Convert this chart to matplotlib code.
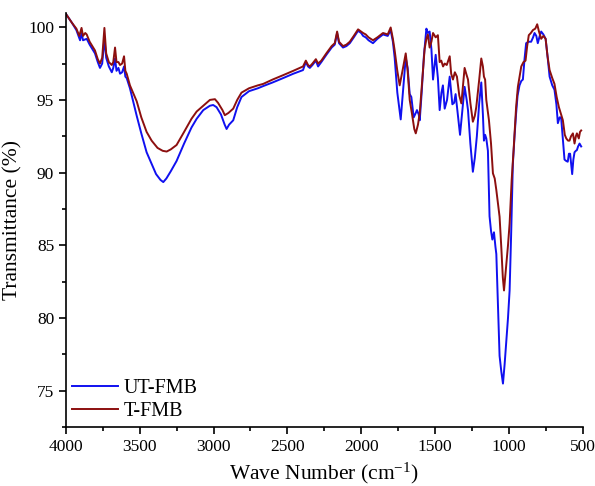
import matplotlib
matplotlib.use("Agg")
import matplotlib.pyplot as plt
from matplotlib.ticker import MultipleLocator

# UT-FMB spectrum (wave number, transmittance)
ut_wn = [4000, 3960, 3930, 3905, 3895, 3885, 3860, 3840, 3804, 3785, 3770, 3755, 3740, 3728,
         3710, 3690, 3680, 3668, 3658, 3645, 3634, 3620, 3607, 3598, 3589, 3567, 3521, 3490,
         3454, 3420, 3390, 3360, 3341, 3320, 3290, 3251, 3200, 3150, 3115, 3070, 3025, 3003,
         2980, 2950, 2925, 2912, 2895, 2867, 2840, 2811, 2760, 2700, 2664, 2600, 2529, 2460,
         2394, 2375, 2360, 2348, 2330, 2307, 2292, 2270, 2236, 2200, 2179, 2163, 2150, 2123,
         2100, 2077, 2050, 2021, 2000, 1987, 1969, 1950, 1920, 1890, 1852, 1820, 1800, 1785,
         1773, 1755, 1732, 1715, 1698, 1685, 1671, 1660, 1644, 1630, 1622, 1610, 1603, 1590,
         1575, 1558, 1548, 1536, 1524, 1513, 1495, 1480, 1468, 1456, 1446, 1434, 1418, 1400,
         1382, 1370, 1360, 1345, 1330, 1315, 1299, 1285, 1276, 1260, 1243, 1230, 1216, 1200,
         1186, 1175, 1168, 1160, 1152, 1141, 1130, 1120, 1111, 1100, 1090, 1084, 1075, 1062,
         1050, 1039, 1028, 1017, 1005, 994, 983, 972, 960, 950, 940, 927, 915, 904, 893, 882,
         865, 848, 835, 825, 813, 803, 790, 780, 765, 750, 737, 723, 705, 690, 677, 667, 655,
         645, 633, 622, 610, 600, 592, 584, 576, 570, 562, 554, 545, 538, 530, 520, 509]
ut_t = [100.9, 100.3, 99.8, 99.1, 99.6, 99.1, 99.2, 98.8, 98.2, 97.6, 97.2, 97.5, 99.2, 97.9,
        97.3, 96.9, 97.2, 97.85, 97.0, 97.2, 96.8, 96.9, 97.3, 96.6, 96.5, 95.8, 93.9, 92.7,
        91.4, 90.6, 89.9, 89.5, 89.35, 89.6, 90.1, 90.8, 92.0, 93.1, 93.7, 94.3, 94.6, 94.65,
        94.5, 94.0, 93.3, 93.0, 93.3, 93.6, 94.5, 95.2, 95.6, 95.8, 95.95, 96.2, 96.5, 96.8,
        97.05, 97.6, 97.3, 97.2, 97.4, 97.7, 97.3, 97.6, 98.1, 98.6, 98.8, 99.6, 98.9, 98.6,
        98.7, 98.9, 99.3, 99.75, 99.6, 99.4, 99.3, 99.1, 98.9, 99.2, 99.5, 99.4, 99.8, 99.0,
        97.9, 95.5, 93.66, 95.8, 97.9, 97.2, 95.4, 95.2, 93.8, 94.1, 94.3, 94.0, 93.6, 95.5,
        98.0, 99.9, 99.6, 99.7, 98.5, 96.4, 98.1, 96.5, 94.3, 95.5, 96.0, 94.4, 95.0, 96.6,
        94.7, 94.8, 95.4, 94.0, 92.6, 94.2, 95.9, 95.0, 94.3, 92.0, 90.06, 91.0, 92.5, 94.8,
        96.2, 94.0, 92.2, 92.6, 92.35, 91.5, 87.0, 86.0, 85.4, 85.9, 84.9, 84.4, 81.5, 77.4,
        76.3, 75.5, 76.8, 78.3, 80.0, 81.9, 86.0, 90.6, 92.6, 94.07, 95.3, 96.0, 96.3, 96.4, 97.8, 98.9,
        99.0, 99.0, 99.3, 99.6, 99.4, 98.9, 99.4, 99.7, 99.5, 99.2, 98.0, 96.6, 96.0, 95.7, 94.7, 93.4, 93.8,
        93.8, 92.3, 90.9, 90.8, 90.75, 91.3, 91.3, 90.5, 89.9, 90.9, 91.4, 91.5, 91.55, 91.8, 92.0, 91.8]

# T-FMB spectrum
t_wn = [4000, 3960, 3930, 3910, 3895, 3885, 3870, 3860, 3840, 3804, 3785, 3770, 3755, 3740,
        3728, 3710, 3690, 3680, 3668, 3658, 3645, 3634, 3620, 3607, 3598, 3589, 3567, 3521,
        3490, 3454, 3420, 3380, 3345, 3318, 3290, 3251, 3200, 3150, 3115, 3070, 3025, 2991,
        2970, 2940, 2924, 2900, 2867, 2840, 2811, 2760, 2700, 2664, 2600, 2529, 2460, 2394,
        2375, 2360, 2348, 2330, 2307, 2292, 2270, 2236, 2200, 2179, 2163, 2150, 2123, 2100,
        2077, 2050, 2021, 2000, 1987, 1969, 1950, 1920, 1890, 1852, 1820, 1800, 1785, 1773,
        1755, 1739, 1720, 1698, 1685, 1671, 1655, 1640, 1630, 1615, 1603, 1585, 1570, 1558,
        1548, 1536, 1524, 1513, 1495, 1480, 1468, 1457, 1445, 1434, 1420, 1400, 1390, 1378,
        1365, 1351, 1335, 1321, 1310, 1299, 1288, 1276, 1260, 1243, 1230, 1220, 1200, 1186,
        1175, 1168, 1160, 1152, 1134, 1120, 1107, 1095, 1084, 1070, 1062, 1050, 1040, 1032,
        1020, 1005, 994, 980, 967, 950, 938, 925, 915, 900, 886, 875, 864, 850, 836, 820, 807,
        795, 780, 765, 750, 737, 723, 705, 690, 675, 660, 645, 633, 620, 610, 598, 588, 578,
        565, 554, 545, 538, 525, 517, 509]
t_t = [100.9, 100.3, 99.9, 99.4, 99.95, 99.4, 99.6, 99.5, 99.0, 98.4, 97.8, 97.5, 97.9, 99.95,
       98.2, 97.6, 97.4, 97.6, 98.6, 97.6, 97.6, 97.4, 97.5, 98.0, 97.0, 96.8, 96.0, 94.9,
       93.8, 92.8, 92.2, 91.7, 91.5, 91.45, 91.6, 91.9, 92.8, 93.7, 94.2, 94.6, 95.0, 95.05,
       94.8, 94.3, 93.95, 94.1, 94.4, 95.0, 95.5, 95.8, 96.0, 96.1, 96.4, 96.7, 97.0, 97.3,
       97.7, 97.4, 97.3, 97.5, 97.8, 97.5, 97.7, 98.2, 98.7, 98.9, 99.7, 99.0, 98.7, 98.8,
       99.0, 99.4, 99.85, 99.7, 99.6, 99.5, 99.3, 99.1, 99.3, 99.6, 99.5, 99.98, 99.2, 98.4,
       97.0, 96.0, 97.0, 98.2, 97.0, 95.0, 94.0, 93.0, 92.7, 93.3, 94.1, 96.5, 98.5, 99.2,
       99.5, 98.6, 99.0, 99.6, 99.3, 99.45, 97.6, 97.7, 97.3, 97.5, 97.4, 98.0, 96.8, 96.4,
       96.9, 96.6, 95.3, 94.76, 96.0, 97.2, 96.8, 96.4, 94.8, 93.5, 93.9, 94.5, 96.4, 97.85,
       97.3, 96.6, 96.4, 95.0, 93.6, 92.0, 89.95, 89.6, 88.8, 87.6, 86.97, 84.8, 82.8, 81.9,
       83.3, 85.0, 86.5, 89.5, 91.55, 94.5, 95.9, 96.7, 97.3, 97.6, 97.7, 98.7, 99.45, 99.6, 99.8, 99.9, 100.2,
       99.7, 99.2, 99.4, 99.2, 98.0, 97.05, 96.5, 96.1, 95.2, 94.5, 94.0, 93.6, 92.6, 92.35, 92.2, 92.2, 92.5,
       92.7, 92.0, 92.5, 92.7, 92.35, 92.8, 92.9]

plt.rcParams["font.family"] = ["Liberation Serif", "DejaVu Serif"]
plt.rcParams["mathtext.default"] = "regular"

fig = plt.figure(figsize=(5.95, 4.86), dpi=100)
ax = fig.add_axes([0.111, 0.121, 0.868, 0.853])

ax.plot(ut_wn, ut_t, color="#1010f0", lw=1.4, label="UT-FMB")
ax.plot(t_wn, t_t, color="#8c0f0f", lw=1.4, label="T-FMB")

ax.set_xlim(4000, 500)
ax.set_ylim(72.5, 101)
ax.xaxis.set_major_locator(MultipleLocator(500))
ax.xaxis.set_minor_locator(MultipleLocator(250))
ax.yaxis.set_major_locator(MultipleLocator(5))
ax.yaxis.set_minor_locator(MultipleLocator(2.5))

for s in ["top", "right"]:
    ax.spines[s].set_visible(False)
for s in ["left", "bottom"]:
    ax.spines[s].set_linewidth(1.2)
ax.tick_params(which="both", direction="out", width=1.2, labelsize=12.5)
ax.tick_params(which="major", length=5)
ax.tick_params(which="minor", length=3)

ax.set_xlabel("Wave Number (cm$^{-1}$)", fontsize=15.5)
ax.set_ylabel("Transmittance (%)", fontsize=15.5)

ax.legend(loc="lower left", bbox_to_anchor=(0, 0), frameon=False, fontsize=14.5,
          handlelength=2.3, handletextpad=0.25, borderaxespad=0.1, borderpad=0.2,
          labelspacing=0.2)

fig.savefig("out.png", dpi=100)
